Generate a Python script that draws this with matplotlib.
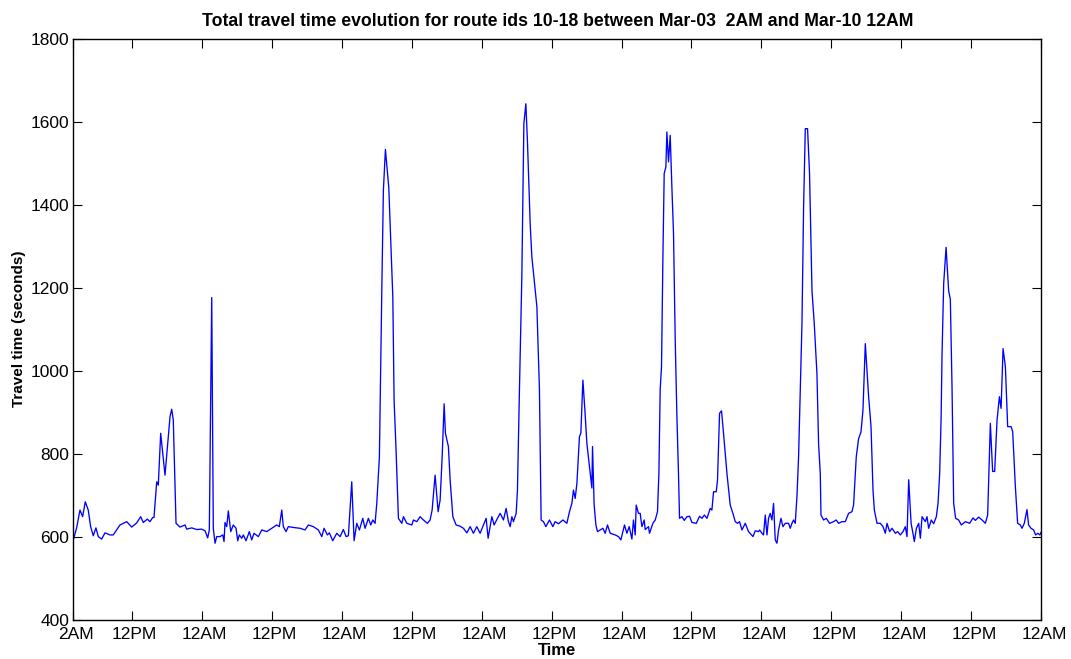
import matplotlib
matplotlib.use("Agg")
import matplotlib.pyplot as plt
from matplotlib.transforms import ScaledTranslation

plt.rcParams['font.family'] = ['Liberation Sans', 'DejaVu Sans']

# Hours since Mar-03 2AM, and total travel time (seconds)
hours = [
    0.0, 0.58, 1.15, 1.61, 2.06, 2.57, 2.98, 3.43, 3.89, 4.29,
    4.87, 5.44, 6.30, 6.86, 8.01, 9.16, 10.02, 10.88, 11.56, 12.01,
    12.69, 13.16, 13.62, 13.84, 14.31, 14.58, 14.99, 15.73, 16.59, 16.88,
    17.15, 17.62, 18.30, 19.16, 19.45, 20.31, 21.17, 22.02, 22.59, 23.05,
    23.33, 23.74, 24.01, 24.31, 24.60, 25.16, 25.63, 25.85, 26.02, 26.31,
    26.59, 27.00, 27.44, 27.91, 28.20, 28.47, 28.89, 29.16, 29.62, 30.19,
    30.60, 30.99, 31.73, 32.32, 33.17, 34.03, 34.89, 35.33, 35.75, 36.02,
    36.48, 36.88, 37.74, 38.89, 39.74, 40.31, 41.17, 42.02, 42.61, 43.00,
    43.57, 43.91, 44.49, 45.18, 45.75, 46.31, 46.78, 47.17, 47.75, 48.15,
    48.61, 49.06, 49.64, 50.03, 50.60, 51.01, 51.36, 51.75, 52.04, 52.49,
    52.90, 53.17, 53.52, 54.10, 54.44, 54.79, 55.01, 55.35, 55.75, 56.33,
    56.61, 57.19, 58.05, 58.32, 58.90, 59.47, 60.04, 60.72, 61.18, 61.53,
    62.04, 62.56, 62.90, 63.25, 63.59, 63.81, 64.32, 64.62, 65.08, 65.64,
    66.33, 66.90, 67.48, 68.05, 68.61, 69.19, 69.76, 70.33, 70.79, 71.13,
    71.77, 72.16, 72.73, 73.19, 73.76, 74.22, 74.61, 74.91, 75.20, 75.47,
    75.94, 76.16, 76.50, 76.91, 77.26, 77.60, 77.87, 78.34, 78.63, 79.49,
    79.93, 80.22, 80.62, 81.03, 81.65, 82.23, 82.62, 83.19, 83.95, 84.63,
    85.08, 85.49, 85.76, 86.06, 86.35, 86.79, 87.03, 87.38, 87.72, 88.06,
    88.51, 88.92, 89.03, 89.31, 89.61, 89.88, 90.34, 90.81, 91.20, 91.60,
    92.06, 92.92, 93.48, 93.89, 94.51, 94.92, 95.32, 95.78, 96.05, 96.35,
    96.52, 96.91, 97.20, 97.50, 97.89, 98.06, 98.63, 98.80, 99.38, 99.78,
    100.17, 100.41, 100.63, 100.86, 101.10, 101.32, 101.61, 101.78, 102.06, 102.35,
    102.64, 102.92, 103.21, 103.50, 103.77, 103.95, 104.36, 104.76, 105.22, 105.67,
    106.08, 106.82, 107.39, 107.80, 108.20, 108.65, 109.21, 109.50, 109.78, 110.24,
    110.46, 110.81, 111.15, 111.49, 112.08, 112.64, 113.10, 113.50, 113.89, 114.24,
    114.65, 115.22, 115.78, 116.54, 116.93, 117.50, 117.67, 118.08, 118.35, 118.65,
    118.94, 119.21, 119.50, 119.79, 120.07, 120.36, 120.65, 120.93, 121.34, 121.68,
    122.08, 122.64, 122.93, 123.22, 123.50, 123.79, 124.08, 124.36, 124.65, 124.94,
    125.22, 125.51, 125.90, 126.24, 126.66, 127.05, 127.51, 127.79, 128.08, 128.20,
    128.65, 129.11, 129.68, 130.36, 130.82, 131.22, 131.80, 132.37, 132.93, 133.51,
    133.79, 134.25, 134.65, 135.06, 135.40, 135.80, 136.37, 136.78, 137.12, 137.35,
    137.81, 138.37, 138.84, 139.23, 139.52, 139.97, 140.38, 140.95, 141.34, 141.81,
    142.27, 142.66, 142.95, 143.24, 143.65, 143.92, 144.21, 144.56, 144.95, 145.24,
    145.53, 146.09, 146.38, 146.66, 147.12, 147.52, 147.98, 148.27, 148.55, 148.79,
    148.96, 149.24, 149.65, 150.09, 150.38, 150.67, 150.95, 151.29, 151.80, 152.27,
    152.96, 153.69, 154.27, 154.67, 155.23, 155.82, 156.38, 156.78, 157.24, 157.63,
    157.98, 158.39, 158.79, 159.08, 159.42, 159.82, 160.21, 160.79, 161.07, 161.53,
    161.92, 162.38, 162.67, 163.06, 163.52, 163.80, 164.21, 164.66, 165.00, 165.39,
    165.73, 166.00,
]

travel_time = [
    592, 621, 664, 648, 684, 664, 624, 602, 621, 600,
    594, 609, 604, 604, 628, 636, 623, 633, 648, 634,
    642, 636, 646, 646, 732, 724, 849, 748, 889, 907,
    881, 632, 623, 628, 618, 621, 617, 618, 614, 597,
    616, 1176, 620, 584, 600, 600, 604, 588, 634, 624,
    662, 612, 628, 620, 590, 604, 596, 604, 590, 612,
    592, 608, 600, 616, 612, 620, 628, 624, 664, 624,
    612, 624, 622, 620, 616, 628, 624, 616, 600, 620,
    604, 609, 590, 608, 600, 617, 600, 602, 732, 590,
    632, 616, 644, 620, 644, 628, 640, 632, 680, 792,
    1192, 1433, 1533, 1441, 1313, 1177, 928, 807, 644, 632,
    648, 632, 628, 640, 636, 648, 640, 632, 640, 664,
    748, 660, 688, 792, 920, 849, 817, 736, 648, 628,
    625, 620, 609, 624, 608, 624, 608, 628, 644, 596,
    648, 628, 644, 656, 640, 668, 636, 624, 648, 636,
    656, 712, 953, 1226, 1595, 1643, 1554, 1354, 1274, 1154,
    953, 640, 636, 624, 640, 624, 636, 631, 640, 632,
    660, 680, 712, 692, 728, 841, 849, 977, 905, 825,
    769, 717, 817, 676, 628, 612, 616, 620, 608, 628,
    608, 604, 600, 592, 628, 608, 624, 594, 640, 604,
    676, 656, 656, 624, 640, 617, 624, 608, 632, 640,
    660, 752, 953, 1010, 1274, 1475, 1491, 1575, 1503, 1567,
    1441, 1329, 1073, 889, 752, 644, 648, 639, 648, 649,
    634, 632, 649, 644, 652, 644, 668, 664, 708, 708,
    736, 897, 903, 849, 752, 676, 656, 636, 632, 636,
    616, 632, 612, 600, 614, 612, 616, 608, 604, 652,
    604, 644, 656, 640, 680, 592, 584, 616, 644, 624,
    632, 632, 620, 632, 640, 632, 696, 792, 953, 1113,
    1394, 1583, 1583, 1475, 1192, 1113, 992, 824, 752, 652,
    640, 644, 632, 636, 640, 632, 636, 636, 656, 660,
    676, 792, 836, 852, 905, 1065, 937, 865, 712, 664,
    632, 632, 624, 608, 632, 612, 620, 608, 612, 604,
    612, 624, 600, 737, 632, 612, 588, 620, 632, 596,
    648, 636, 648, 620, 640, 631, 648, 680, 752, 881,
    1041, 1210, 1297, 1192, 1172, 960, 680, 644, 640, 628,
    636, 632, 645, 639, 647, 640, 632, 652, 873, 757,
    757, 881, 937, 909, 1053, 1009, 865, 865, 853, 720,
    632, 628, 620, 632, 665, 628, 620, 616, 604, 608,
    604, 612,
]

# Tick positions (hours since start) and their labels
tick_hours = [0, 10, 22, 34, 46, 58, 70, 82, 94, 106, 118, 130, 142, 154, 166]
tick_labels = ['2AM', '12PM', '12AM', '12PM', '12AM', '12PM', '12AM', '12PM',
               '12AM', '12PM', '12AM', '12PM', '12AM', '12PM', '12AM']
y_ticks = [400, 600, 800, 1000, 1200, 1400, 1600, 1800]

fig = plt.figure(figsize=(10.71, 6.59), dpi=100)
ax = fig.add_axes([0.0684, 0.0598, 0.9040, 0.8816])

ax.plot(hours, travel_time, color='#0000ff', linewidth=0.95)

ax.set_xlim(0, 166)
ax.set_ylim(400, 1800)
ax.set_xticks(tick_hours)
ax.set_xticklabels(tick_labels)
ax.set_yticks(y_ticks)
ax.tick_params(direction='in', length=6.5, width=0.8, top=True, right=True,
               labelsize=12.5, colors='black')
ax.tick_params(axis='x', pad=5)
ax.tick_params(axis='y', pad=3)
for s in ax.spines.values():
    s.set_linewidth(1.0)

# the x labels sit a few pixels right of their ticks in the original
shift = ScaledTranslation(3 / 100, 0, fig.dpi_scale_trans)
for lab in ax.get_xticklabels():
    lab.set_transform(lab.get_transform() + shift)

ax.set_title('Total travel time evolution for route ids 10-18 between Mar-03  2AM and Mar-10 12AM',
             fontsize=12.7, fontweight='bold', pad=9)
ax.set_xlabel('Time', fontsize=12, fontweight='bold', labelpad=1)
ax.set_ylabel('Travel time (seconds)', fontsize=11, fontweight='bold', labelpad=3)

fig.savefig('out.png', dpi=100)
